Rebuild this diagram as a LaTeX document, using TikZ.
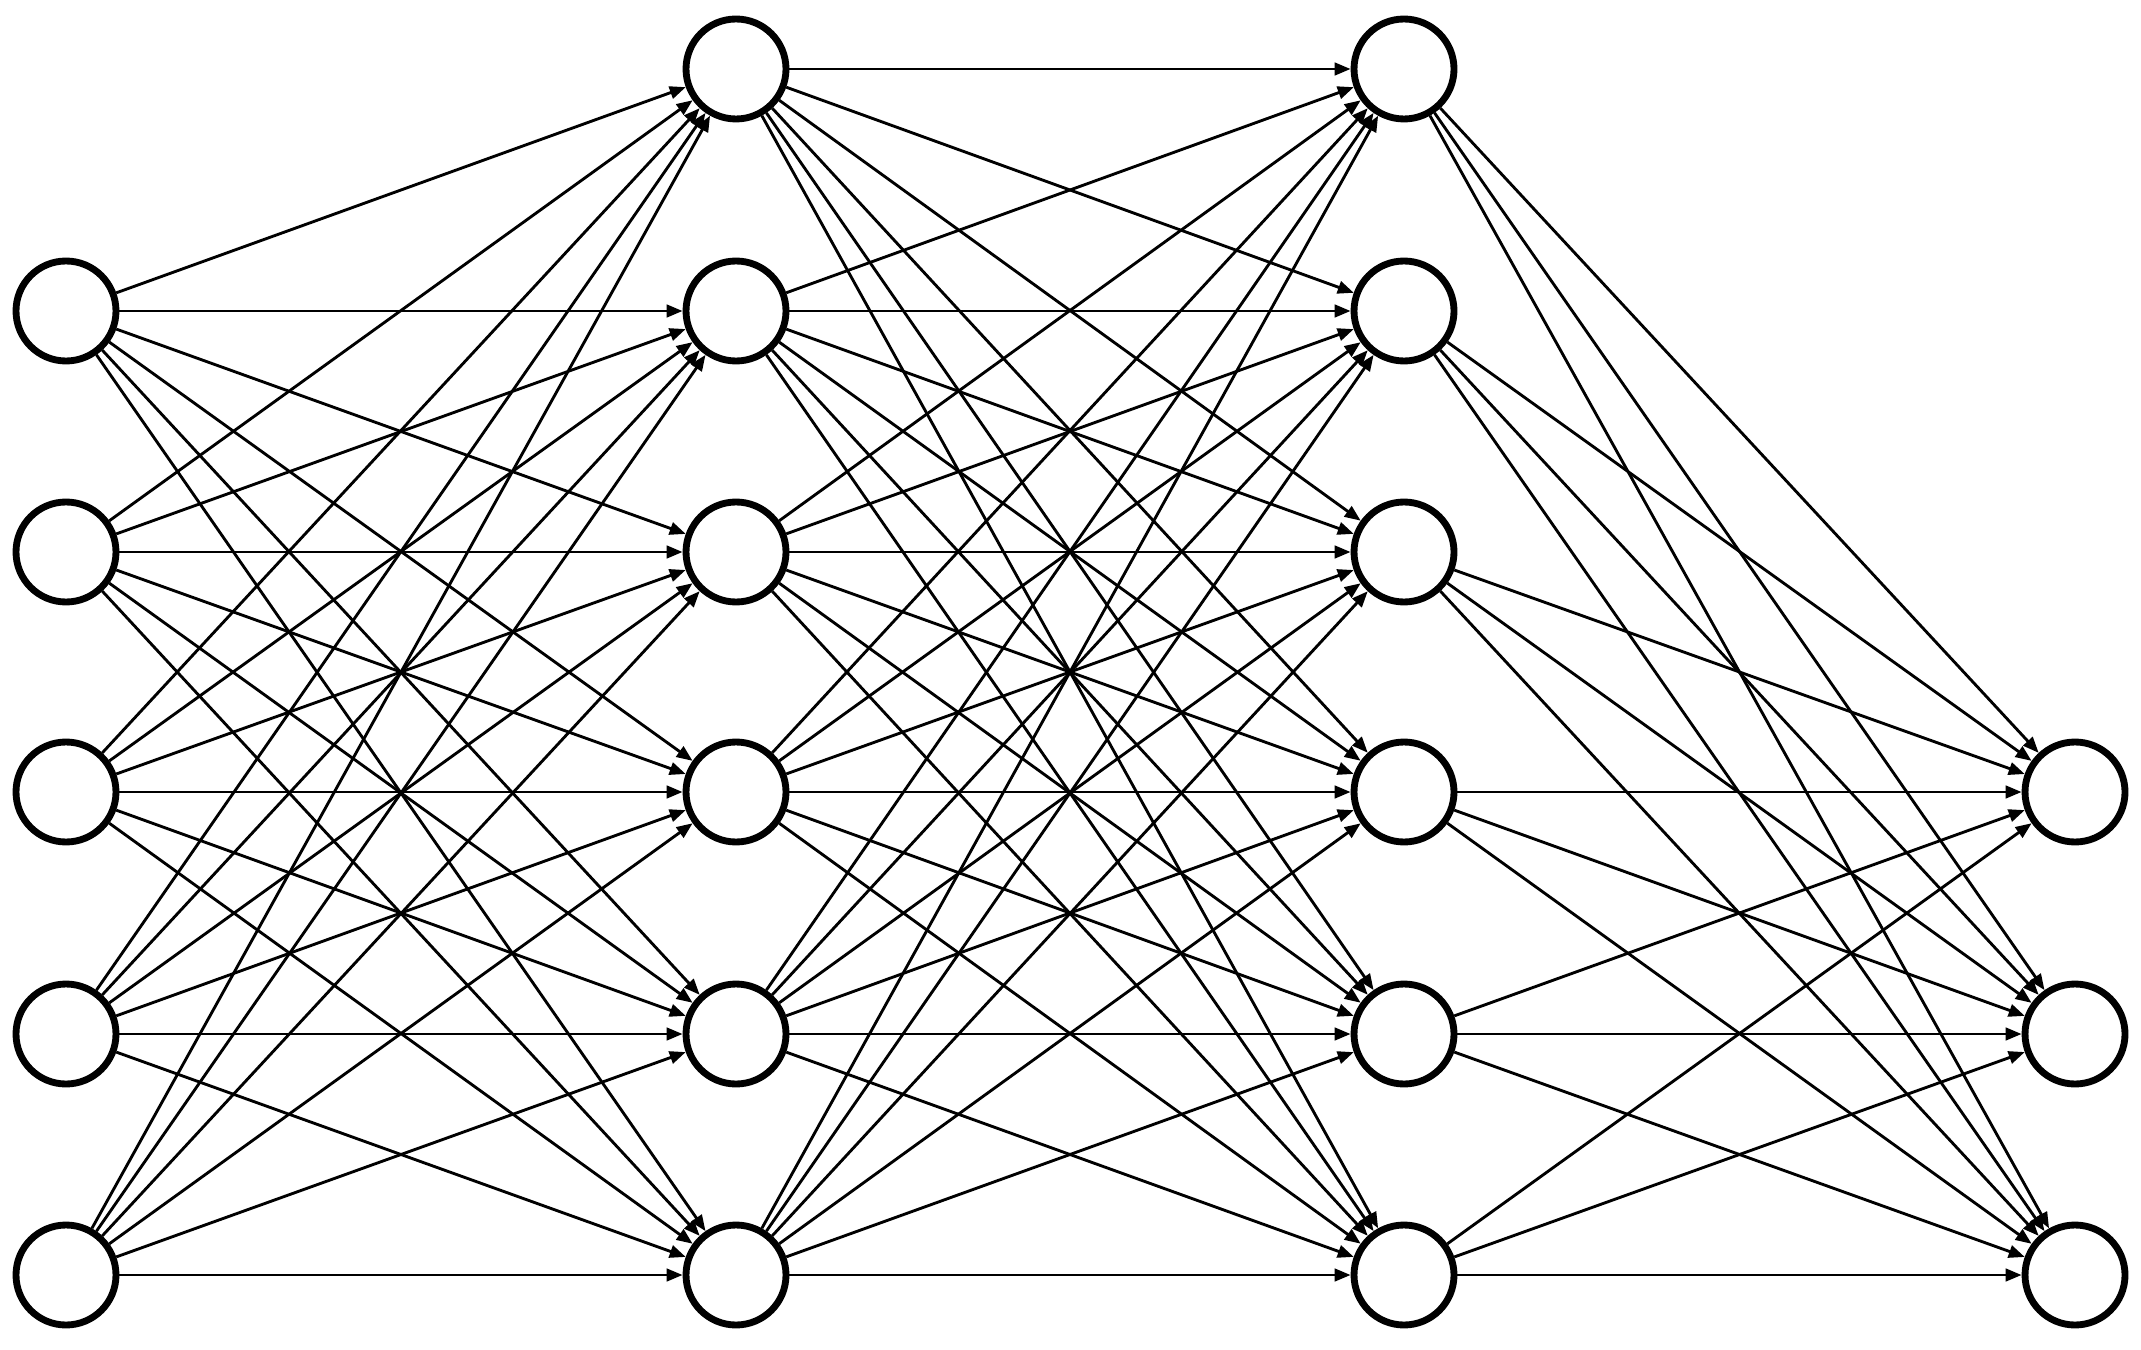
\documentclass[tikz,border=0pt]{standalone}
\usetikzlibrary{arrows.meta}
\begin{document}
\begin{tikzpicture}[x=0.35pt,y=-0.35pt,
  neuron/.style={circle,draw=black,line width=2.4pt,fill=white,minimum size=35pt,inner sep=0pt},
  conn/.style={line width=1pt,-{Triangle[length=5.6pt,width=4.4pt]}}]
\useasboundingbox (0,0) rectangle (2141,1350);
% layer 1
\foreach \i/\y in {1/311,2/552,3/792,4/1034,5/1275}
  \node[neuron] (a\i) at (66,\y) {};
% layer 2
\foreach \i/\y in {1/69,2/311,3/552,4/792,5/1034,6/1275}
  \node[neuron] (b\i) at (736,\y) {};
% layer 3
\foreach \i/\y in {1/69,2/311,3/552,4/792,5/1034,6/1275}
  \node[neuron] (c\i) at (1404,\y) {};
% layer 4
\foreach \i/\y in {1/792,2/1034,3/1275}
  \node[neuron] (d\i) at (2075,\y) {};
\foreach \i in {1,...,5}
  \foreach \j in {1,...,6}
    \draw[conn] (a\i) -- (b\j);
\foreach \i in {1,...,6}
  \foreach \j in {1,...,6}
    \draw[conn] (b\i) -- (c\j);
\foreach \i in {1,...,6}
  \foreach \j in {1,...,3}
    \draw[conn] (c\i) -- (d\j);
\end{tikzpicture}
\end{document}
